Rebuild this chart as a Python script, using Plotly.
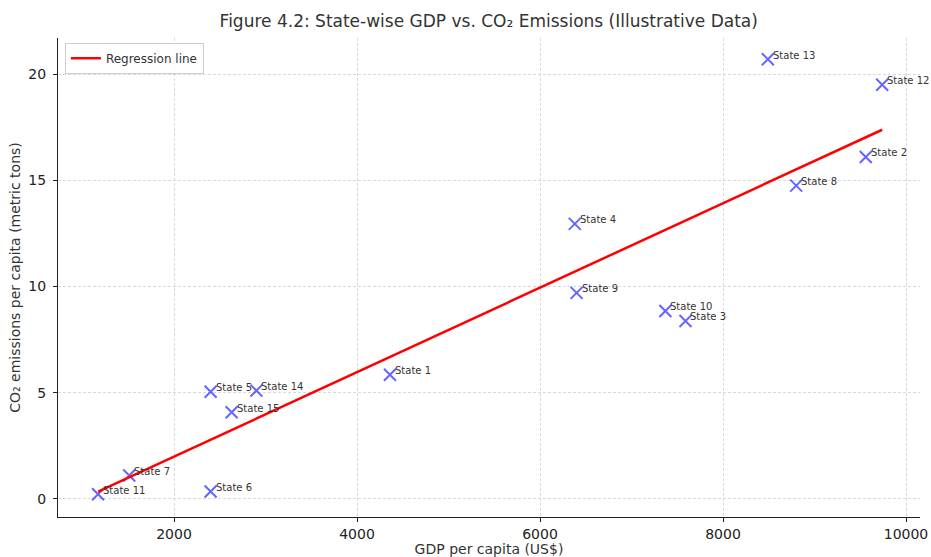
import numpy as np
import plotly.graph_objects as go

states = ["State 1", "State 2", "State 3", "State 4", "State 5", "State 6", "State 7", "State 8",
          "State 9", "State 10", "State 11", "State 12", "State 13", "State 14", "State 15"]
gdp = [4360, 9560, 7590, 6380, 2400, 2400, 1510, 8800, 6400, 7370, 1170, 9740, 8490, 2900, 2630]
co2 = [5.85, 16.1, 8.38, 12.95, 5.05, 0.35, 1.1, 14.75, 9.7, 8.85, 0.22, 19.5, 20.7, 5.1, 4.08]
x_ticks = [2000, 4000, 6000, 8000, 10000]
y_ticks = [0, 5, 10, 15, 20]

slope, intercept = np.polyfit(gdp, co2, 1)
line_x = [min(gdp), max(gdp)]
line_y = [slope * v + intercept for v in line_x]

FONT = "DejaVu Sans"
fig = go.Figure()
fig.add_trace(go.Scatter(
    x=gdp, y=co2, mode="markers", showlegend=False, hoverinfo="skip",
    marker=dict(symbol="x-thin-open", size=12, color="rgba(50,50,255,0.75)",
                line=dict(width=2, color="rgba(50,50,255,0.75)")),
))
fig.add_trace(go.Scatter(
    x=line_x, y=line_y, mode="lines", name="Regression line", hoverinfo="skip",
    line=dict(color="#ff0000", width=2.5),
))
for s, xv, yv in zip(states, gdp, co2):
    fig.add_annotation(x=xv, y=yv, text=s, showarrow=False, xanchor="left", yanchor="middle",
                       xshift=3, yshift=4, font=dict(family=FONT, size=10, color="#333333"))

axis_common = dict(
    showline=True, linecolor="#222222", linewidth=1.2, mirror=False,
    showgrid=True, gridcolor="#d9d9d9", griddash="3px,2px", gridwidth=1,
    zeroline=False, ticks="outside", ticklen=4, tickcolor="#222222",
    tickfont=dict(family=FONT, size=14, color="#222222"), automargin=False,
)
fig.update_layout(
    width=931, height=557,
    margin=dict(l=58, r=11, t=38, b=40),
    plot_bgcolor="white", paper_bgcolor="white",
    title=dict(text="Figure 4.2: State-wise GDP vs. CO₂ Emissions (Illustrative Data)",
               x=0.525, xanchor="center", y=0.962, yanchor="middle",
               font=dict(family=FONT, size=17, color="#333333")),
    xaxis=dict(range=[732, 10153], tickvals=x_ticks, ticktext=[str(v) for v in x_ticks],
               title=dict(text="GDP per capita (US$)",
                          font=dict(family=FONT, size=14, color="#333333")),
               **axis_common),
    yaxis=dict(range=[-0.85, 21.7], tickvals=y_ticks, ticktext=[str(v) for v in y_ticks],
               ticklabelstandoff=4,
               title=dict(text="CO₂ emissions per capita (metric tons)", standoff=4,
                          font=dict(family=FONT, size=14, color="#333333")),
               **axis_common),
    legend=dict(x=0.008, y=0.99, xanchor="left", yanchor="top",
                bgcolor="rgba(255,255,255,0.8)", bordercolor="#cccccc", borderwidth=1,
                font=dict(family=FONT, size=12, color="#333333")),
)
fig.write_html("out.html", config={"displayModeBar": False},
               post_script="document.body.style.margin='0';document.body.style.overflow='hidden';")
